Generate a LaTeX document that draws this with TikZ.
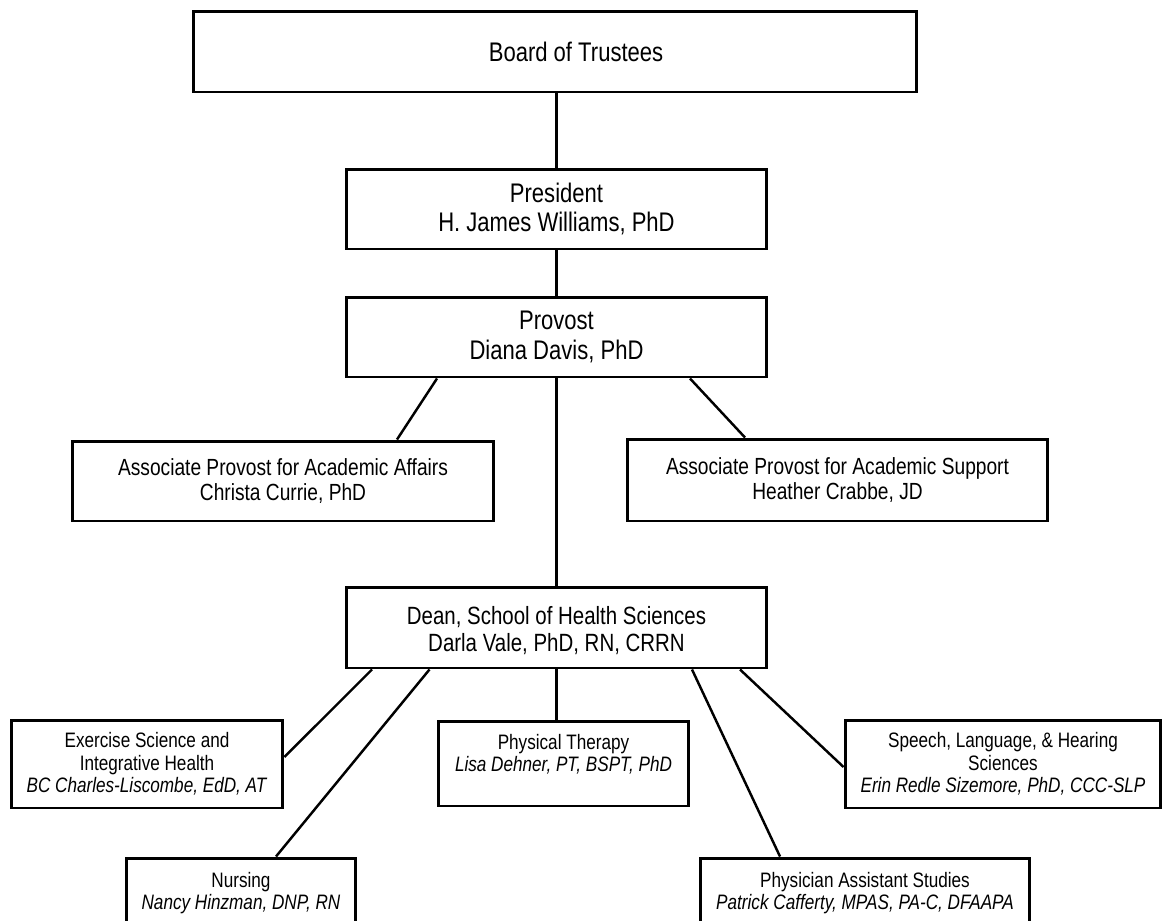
\documentclass[tikz,border=0pt]{standalone}
\usepackage{fontspec}
\setmainfont{Liberation Sans}[FakeStretch=0.82]
\usepackage{tikz}
\usetikzlibrary{positioning}
\usetikzlibrary{calc}

\tikzset{
  box/.style={draw, line width=1.7pt, inner sep=0pt, align=center},
  link/.style={line width=1.4pt},
  bigtext/.style={font=\fontsize{15.3}{16.8}\selectfont},
  deantext/.style={font=\fontsize{14.2}{15.3}\selectfont},
  midtext/.style={font=\fontsize{13.3}{14.7}\selectfont},
  smalltext/.style={font=\fontsize{11.9}{12.7}\selectfont},
}

\begin{document}
\begin{tikzpicture}[x=0.02cm, y=-0.02cm]
\clip (0,0) rectangle (1163,920);

% top of the chart
\node[box, bigtext, minimum width=14.48cm, minimum height=1.62cm] (board) at (555,51.5) {\hspace*{0.84cm}Board of Trustees};
\node[box, bigtext, minimum width=8.42cm, minimum height=1.60cm] (pres) at (556.5,209) {President\\H. James Williams, PhD};
\node[box, bigtext, minimum width=8.42cm, minimum height=1.60cm] (prov) at (556.5,337) {Provost\\Diana Davis, PhD};

% associate provosts
\node[box, midtext, minimum width=8.44cm, minimum height=1.60cm] (aaa) at (283,481) {Associate Provost for Academic Affairs\\Christa Currie, PhD};
\node[box, midtext, minimum width=8.42cm, minimum height=1.64cm] (aas) at (837.5,480) {Associate Provost for Academic Support\\Heather Crabbe, JD};

% dean
\node[box, deantext, minimum width=8.42cm, minimum height=1.62cm, text height=28.6pt] (dean) at (556.5,627.5) {Dean, School of Health Sciences\\Darla Vale, PhD, RN, CRRN};

% programs
\node[box, smalltext, minimum width=5.44cm, minimum height=1.76cm] (exer) at (147,764) {Exercise Science and\\Integrative Health\\\textit{BC Charles-Liscombe, EdD, AT}};
\node[box, smalltext, minimum width=5.02cm, minimum height=1.70cm, text depth=12pt] (pt) at (563.5,763.5) {Physical Therapy\\\textit{Lisa Dehner, PT, BSPT, PhD}};
\node[box, smalltext, minimum width=6.32cm, minimum height=1.76cm] (slh) at (1003,764) {Speech, Language, \& Hearing\\Sciences\\\textit{Erin Redle Sizemore, PhD, CCC-SLP}};
\node[box, smalltext, minimum width=4.60cm, minimum height=1.40cm] (nurs) at (241,893) {Nursing\\\textit{Nancy Hinzman, DNP, RN}};
\node[box, smalltext, minimum width=6.60cm, minimum height=1.40cm] (pas) at (865,893) {Physician Assistant Studies\\\textit{Patrick Cafferty, MPAS, PA-C, DFAAPA}};

\draw[link] (board.south -| pres.north) -- (pres.north);
\draw[link] (pres.south) -- (prov.north);
\draw[link] (prov.south) -- (dean.north);
\draw[link] ($(prov.south)+(-119.5,0)$) -- ($(aaa.north)+(114,0)$);
\draw[link] ($(prov.south)+(133.5,0)$) -- ($(aas.north)+(-92.5,0)$);

\draw[link] ($(dean.south)+(-184.5,0)$) -- ($(exer.east)+(0,-7)$);
\draw[link] ($(dean.south)+(-127,0)$) -- ($(nurs.north)+(35,0)$);
\draw[link] (dean.south) -- (dean.south |- pt.north);
\draw[link] ($(dean.south)+(135.5,0)$) -- ($(pas.north)+(-85,0)$);
\draw[link] ($(dean.south)+(183.5,0)$) -- ($(slh.west)+(0,3)$);
\end{tikzpicture}
\end{document}
